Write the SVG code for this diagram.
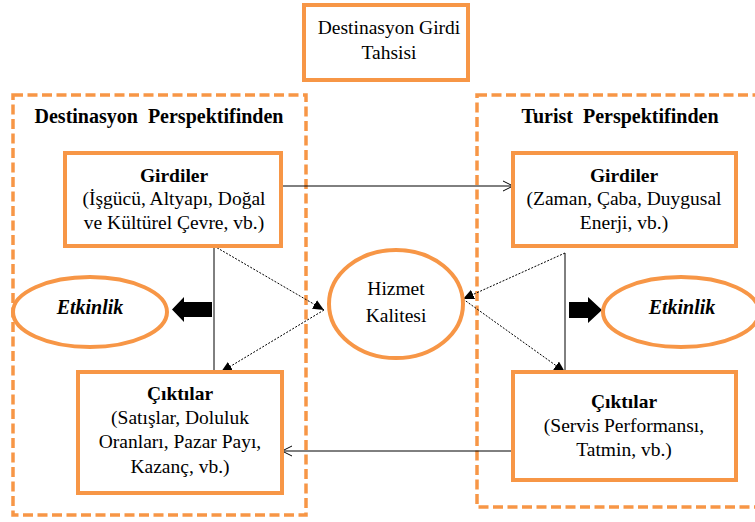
<svg xmlns="http://www.w3.org/2000/svg" width="755" height="522" viewBox="0 0 755 522" font-family="Liberation Serif, serif">
<defs>
<style>
.box{fill:#fff;stroke:#F79646;stroke-width:4}
.dash{fill:none;stroke:#F79646;stroke-width:3.5;stroke-dasharray:10 4.5}
.ell{fill:#fff;stroke:#F79646;stroke-width:4}
.t{font-size:19.5px;fill:#000;text-anchor:middle}
.h{font-size:20px;font-weight:bold}
.b{font-weight:bold}
.bi{font-weight:bold;font-style:italic;font-size:20px}
.thin{stroke:#000;stroke-width:1;fill:none}
.dot{stroke:#000;stroke-width:1;fill:none;stroke-dasharray:2 1.5}
</style>
<marker id="open" markerWidth="12" markerHeight="12" refX="11" refY="6" orient="auto" markerUnits="userSpaceOnUse">
<path d="M1,1 L11,6 L1,11" fill="none" stroke="#000" stroke-width="1"/>
</marker>
<marker id="solid" markerWidth="12" markerHeight="10" refX="11" refY="5" orient="auto" markerUnits="userSpaceOnUse">
<path d="M0,0 L11,5 L0,10 Z" fill="#000"/>
</marker>
</defs>
<rect width="755" height="522" fill="#fff"/>

<g id="left-region">
<rect class="dash" x="13" y="95" width="293" height="420"/>
<text class="t h" x="159" y="123" xml:space="preserve">Destinasyon  Perspektifinden</text>
</g>
<g id="right-region">
<rect class="dash" x="477" y="95" width="300" height="412"/>
<text class="t h" x="620" y="123" xml:space="preserve">Turist  Perspektifinden</text>
</g>

<g id="connectors">
<line class="thin" x1="281" y1="186" x2="513" y2="186" marker-end="url(#open)"/>
<line class="thin" x1="513" y1="451" x2="282" y2="451" marker-end="url(#open)"/>
<line class="thin" x1="214" y1="246" x2="214" y2="372"/>
<line class="dot" x1="214" y1="246" x2="324" y2="310" marker-end="url(#solid)"/>
<line class="dot" x1="324" y1="310" x2="221" y2="372" marker-end="url(#solid)"/>
<line class="thin" x1="565" y1="253" x2="565" y2="372"/>
<line class="dot" x1="565" y1="253" x2="463" y2="299" marker-end="url(#solid)"/>
<line class="dot" x1="463" y1="299" x2="565" y2="372" marker-end="url(#solid)"/>
<path d="M212,302 L184,302 L184,297 L172,309.5 L184,322 L184,317 L212,317 Z" fill="#000"/>
<path d="M569,302 L588,302 L588,297 L602,310 L588,323 L588,318 L569,318 Z" fill="#000"/>
</g>

<g id="tahsis">
<rect class="box" x="304" y="5" width="164" height="75"/>
<text class="t" x="389" y="34">Destinasyon Girdi</text>
<text class="t" x="389" y="59">Tahsisi</text>
</g>

<g id="dest-girdiler">
<rect class="box" x="65" y="153" width="216" height="93"/>
<text class="t b" x="174" y="182">Girdiler</text>
<text class="t" x="174" y="205">(İşgücü, Altyapı, Doğal</text>
<text class="t" x="174" y="229">ve Kültürel Çevre, vb.)</text>
</g>

<g id="turist-girdiler">
<rect class="box" x="513" y="153" width="223" height="93"/>
<text class="t b" x="624" y="182">Girdiler</text>
<text class="t" x="624" y="205">(Zaman, Çaba, Duygusal</text>
<text class="t" x="624" y="229">Enerji, vb.)</text>
</g>

<g id="hizmet">
<ellipse class="ell" cx="396" cy="304" rx="67" ry="54"/>
<text class="t" x="396" y="295">Hizmet</text>
<text class="t" x="396" y="322">Kalitesi</text>
</g>

<g id="etkinlik-left">
<ellipse class="ell" cx="90" cy="312" rx="77" ry="35"/>
<text class="t bi" x="90" y="314">Etkinlik</text>
</g>

<g id="etkinlik-right">
<ellipse class="ell" cx="681" cy="312" rx="78" ry="35"/>
<text class="t bi" x="682" y="314">Etkinlik</text>
</g>

<g id="dest-ciktilar">
<rect class="box" x="78" y="372" width="204" height="121"/>
<text class="t b" x="180" y="400">Çıktılar</text>
<text class="t" x="180" y="424">(Satışlar, Doluluk</text>
<text class="t" x="180" y="448">Oranları, Pazar Payı,</text>
<text class="t" x="180" y="473">Kazanç, vb.)</text>
</g>

<g id="turist-ciktilar">
<rect class="box" x="513" y="372" width="223" height="108"/>
<text class="t b" x="624" y="408">Çıktılar</text>
<text class="t" x="624" y="432">(Servis Performansı,</text>
<text class="t" x="624" y="456">Tatmin, vb.)</text>
</g>
</svg>
